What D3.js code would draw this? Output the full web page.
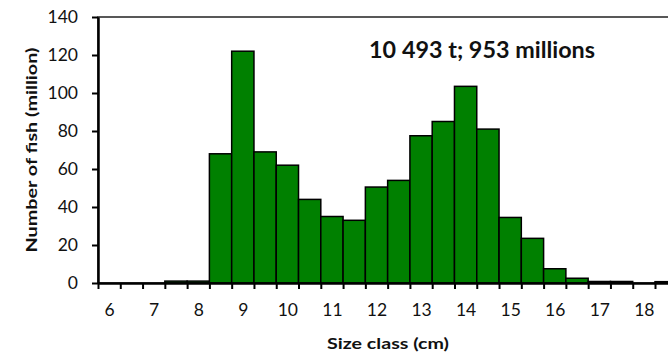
<!DOCTYPE html>
<html><head><meta charset="utf-8">
<script src="https://cdn.jsdelivr.net/npm/d3@7"></script>
<style>body{margin:0;background:#fff}svg{display:block}text{font-family:Lato,"Open Sans",Arial,sans-serif}</style>
</head><body><svg id="c" width="668" height="353"></svg>
<script>
const sizeClasses = [6,6.5,7,7.5,8,8.5,9,9.5,10,10.5,11,11.5,12,12.5,13,13.5,14,14.5,15,15.5,16,16.5,17,17.5,18,18.5];
const fishMillions = [0,0,0,1,1,68,122,69,62,44,35,33,50.5,54,77.5,85,103.5,81,34.5,23.5,7.5,2.5,0.8,0.8,0,0.7];
const xTickLabels = [6,7,8,9,10,11,12,13,14,15,16,17,18];
const yTicks = [0,20,40,60,80,100,120,140];
const annotation = "10\u202F493 t; 953 millions";

const svg = d3.select("#c");
const m = {l:98, t:17, b:283};
const half = 0.25;
const x = d3.scaleLinear().domain([sizeClasses[0]-half, sizeClasses[sizeClasses.length-1]+half]).range([m.l, m.l + 26*22.28]);
const y = d3.scaleLinear().domain([0,140]).range([m.b, m.t]);

// plot border
svg.append("rect").attr("x", m.l).attr("y", m.t).attr("width", x.range()[1]-m.l).attr("height", m.b-m.t)
  .attr("fill","none").attr("stroke","#222").attr("stroke-width",1.5);

// bars
svg.append("g").selectAll("rect").data(sizeClasses.map((c,i)=>({c,v:fishMillions[i]})).filter(d=>d.v>0))
  .join("rect")
  .attr("x", d=>x(d.c-half)).attr("width", d=>x(d.c+half)-x(d.c-half))
  .attr("y", d=>y(d.v)).attr("height", d=>y(0)-y(d.v))
  .attr("fill","#008000").attr("stroke","#000").attr("stroke-width",1.5);

// x axis tick marks at class boundaries
const bounds = sizeClasses.map(c=>c-half).concat([sizeClasses[sizeClasses.length-1]+half]);
const xAxisMarks = svg.append("g").attr("transform",`translate(0,${m.b})`)
  .call(d3.axisBottom(x).tickValues(bounds).tickFormat("").tickSize(6).tickSizeOuter(0));
xAxisMarks.select(".domain").attr("stroke","#000").attr("stroke-width",2.5);
xAxisMarks.selectAll(".tick line").attr("stroke","#000").attr("stroke-width",2);

const xAxisLabels = svg.append("g").attr("transform",`translate(0,${m.b})`)
  .call(d3.axisBottom(x).tickValues(xTickLabels).tickFormat(d3.format("d")).tickSize(0).tickPadding(21));
xAxisLabels.select(".domain").remove();
xAxisLabels.selectAll("text").attr("font-size",17.5).attr("fill","#111").attr("font-family","Lato");

// y axis
const yAxis = svg.append("g").attr("transform",`translate(${m.l},0)`)
  .call(d3.axisLeft(y).tickValues(yTicks).tickSize(6).tickPadding(14).tickSizeOuter(0));
yAxis.select(".domain").attr("stroke","#000").attr("stroke-width",2.5);
yAxis.selectAll(".tick line").attr("stroke","#000").attr("stroke-width",2);
yAxis.selectAll("text").attr("font-size",17.5).attr("fill","#111").attr("font-family","Lato");

// titles
svg.append("text").attr("x",388).attr("y",349).attr("text-anchor","middle")
  .attr("font-size",16).attr("font-weight","bold").attr("fill","#111")
  .attr("textLength",122).attr("lengthAdjust","spacingAndGlyphs").text("Size class  (cm)");
svg.append("text").attr("transform","translate(37,150) rotate(-90)").attr("text-anchor","middle")
  .attr("font-size",16).attr("font-weight","bold").attr("fill","#111")
  .attr("textLength",205).attr("lengthAdjust","spacingAndGlyphs").text("Number of fish  (million)");
svg.append("text").attr("x",369).attr("y",58)
  .attr("font-size",22).attr("font-weight","bold").attr("fill","#111")
  .attr("textLength",226).attr("lengthAdjust","spacingAndGlyphs").text(annotation);
</script></body></html>
